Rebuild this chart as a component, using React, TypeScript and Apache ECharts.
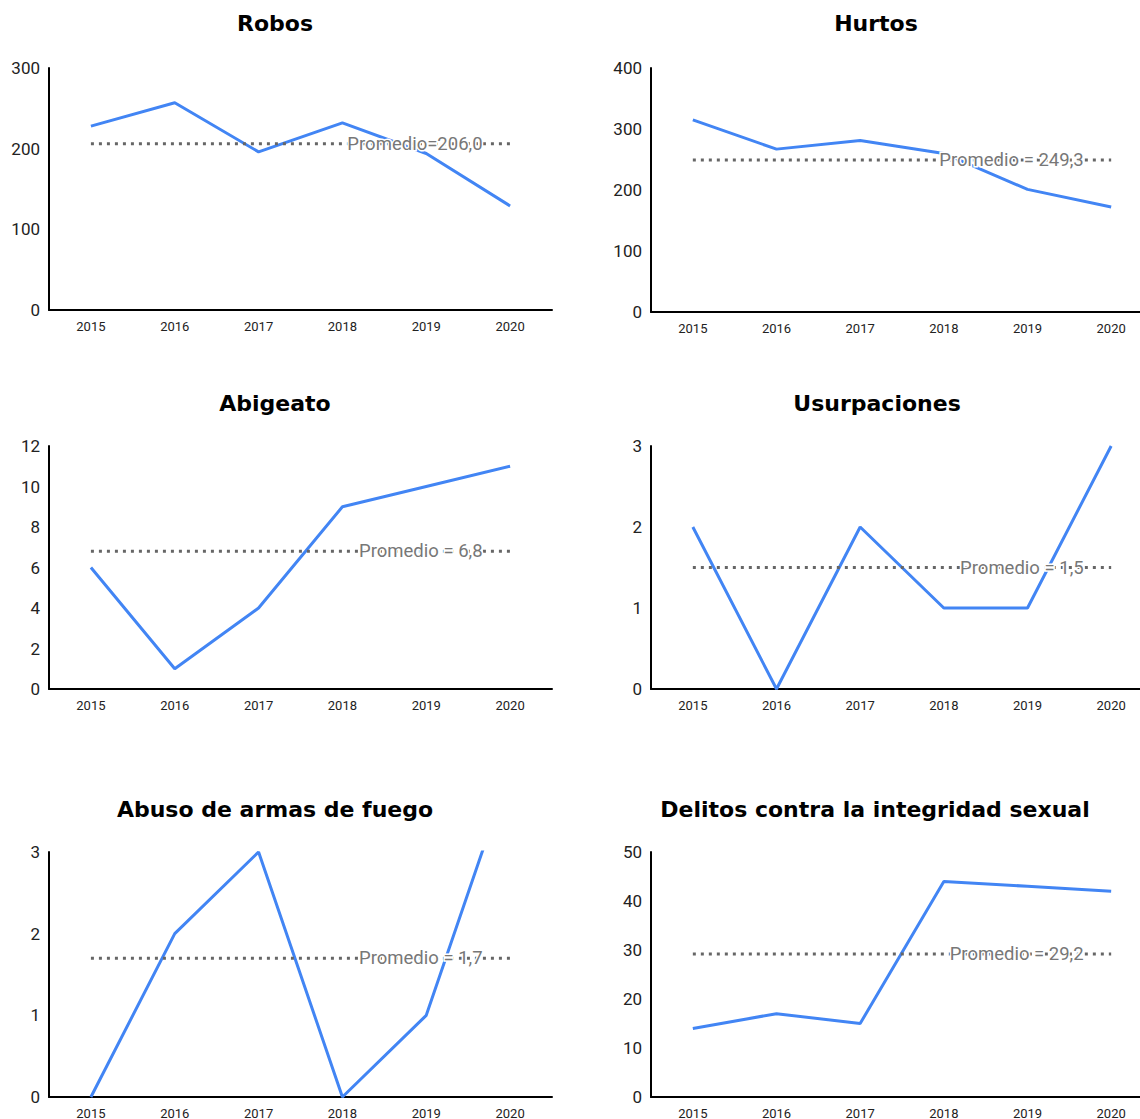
import React, { useEffect, useRef } from "react";
import * as echarts from "echarts";

const years = ["2015", "2016", "2017", "2018", "2019", "2020"];
const titles = [
  "Robos",
  "Hurtos",
  "Abigeato",
  "Usurpaciones",
  "Abuso de armas de fuego",
  "Delitos contra la integridad sexual",
];
const robos = [228, 257, 196, 232, 194, 129];
const hurtos = [315, 267, 281, 260, 201, 172];
const abigeato = [6, 1, 4, 9, 10, 11];
const usurpaciones = [2, 0, 2, 1, 1, 3];
const abusoArmas = [0, 2, 3, 0, 1, 4];
const delitosSexual = [14, 17, 15, 44, 43, 42];
const averages = [206.0, 249.3, 6.8, 1.5, 1.7, 29.2];
const averageLabels = [
  "Promedio=206,0",
  "Promedio = 249,3",
  "Promedio = 6,8",
  "Promedio = 1,5",
  "Promedio = 1,7",
  "Promedio = 29,2",
];
const yMax = [300, 400, 12, 3, 3, 50];
const yStep = [100, 100, 2, 1, 1, 10];

const seriesValues = [robos, hurtos, abigeato, usurpaciones, abusoArmas, delitosSexual];

const gridBoxes = [
  { left: 49, top: 68, width: 503, height: 242 },
  { left: 651, top: 68, width: 502, height: 244 },
  { left: 49, top: 446, width: 503, height: 243 },
  { left: 651, top: 446, width: 502, height: 243 },
  { left: 49, top: 852, width: 503, height: 245 },
  { left: 651, top: 852, width: 502, height: 245 },
];
const titlePos = [
  [275, 23],
  [876, 23],
  [275, 403],
  [877, 403],
  [275, 809],
  [875, 809],
];

export default function App() {
  const ref = useRef<HTMLDivElement>(null);
  useEffect(() => {
    if (!ref.current) return;
    const chart = echarts.init(ref.current, null, { renderer: "svg" });
    const grid = gridBoxes.map((g) => ({ ...g, containLabel: false }));
    const xAxis = gridBoxes.map((_, i) => ({
      type: "category",
      gridIndex: i,
      data: years,
      boundaryGap: true,
      axisLine: { show: true, lineStyle: { color: "#000", width: 2 } },
      axisTick: { show: false },
      axisLabel: { color: "#222", fontSize: 13, fontFamily: "Roboto", margin: 10 },
      splitLine: { show: false },
    }));
    const yAxis = gridBoxes.map((_, i) => ({
      type: "value",
      gridIndex: i,
      min: 0,
      max: yMax[i],
      interval: yStep[i],
      axisLine: { show: true, lineStyle: { color: "#000", width: 2 } },
      axisTick: { show: false },
      axisLabel: { color: "#222", fontSize: 17, fontFamily: "Roboto", margin: 9 },
      splitLine: { show: false },
    }));
    const series: any[] = [];
    seriesValues.forEach((vals, i) => {
      series.push({
        type: "line",
        xAxisIndex: i,
        yAxisIndex: i,
        data: vals,
        showSymbol: false,
        symbol: "none",
        lineStyle: { color: "#4285F4", width: 3 },
        clip: true,
        z: 2,
      });
      series.push({
        type: "line",
        xAxisIndex: i,
        yAxisIndex: i,
        z: 3,
        showSymbol: true,
        symbol: "circle",
        symbolSize: 1,
        itemStyle: { color: "rgba(0,0,0,0)" },
        lineStyle: { color: "#666", width: 3, type: [3, 5] },
        data: years.map((_, k) =>
          k === years.length - 1
            ? {
                value: averages[i],
                label: {
                  show: true,
                  position: "left",
                  distance: 27,
                  formatter: averageLabels[i],
                  color: "#777",
                  fontSize: 18.5,
                  fontFamily: "Roboto",
                  textBorderColor: "#fff",
                  textBorderWidth: 3,
                },
              }
            : averages[i]
        ),
      });
    });
    const graphic = titles.map((t, i) => ({
      type: "text",
      x: titlePos[i][0],
      y: titlePos[i][1],
      style: {
        text: t,
        textAlign: "center",
        textVerticalAlign: "middle",
        font: "bold 22px 'DejaVu Sans'",
        fill: "#000",
      },
    }));
    chart.setOption({
      animation: false,
      backgroundColor: "#fff",
      grid,
      xAxis,
      yAxis,
      series,
      graphic,
    });
    return () => chart.dispose();
  }, []);
  return (
    <div
      style={{
        position: "fixed",
        left: 0,
        top: 0,
        width: 1140,
        height: 1119,
        overflow: "hidden",
        background: "#fff",
      }}
    >
      <div ref={ref} style={{ width: 1160, height: 1130 }} />
    </div>
  );
}
